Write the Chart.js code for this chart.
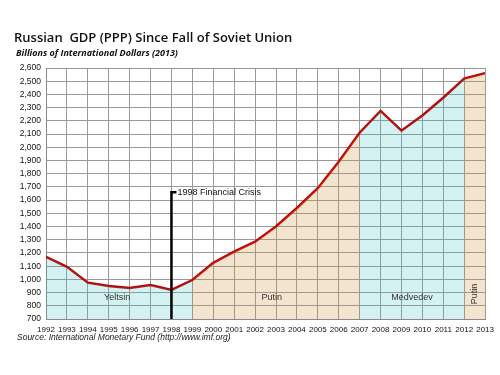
<!DOCTYPE html>
<html>
<head>
<meta charset="utf-8">
<script src="https://cdn.jsdelivr.net/npm/chart.js@4"></script>
<style>
  html, body { margin: 0; padding: 0; background: #fff; }
  #wrap { width: 500px; height: 375px; }
</style>
</head>
<body>
<div id="wrap"><canvas id="gdpChart"></canvas></div>
<script>
// data
const years = [1992, 1993, 1994, 1995, 1996, 1997, 1998, 1999, 2000, 2001, 2002,
               2003, 2004, 2005, 2006, 2007, 2008, 2009, 2010, 2011, 2012, 2013];
const gdp = [1170, 1095, 975, 950, 935, 958, 920, 995, 1125, 1210, 1285,
             1400, 1540, 1690, 1890, 2110, 2275, 2125, 2240, 2375, 2520, 2560];
const yTicks = [700, 800, 900, 1000, 1100, 1200, 1300, 1400, 1500, 1600, 1700, 1800,
                1900, 2000, 2100, 2200, 2300, 2400, 2500, 2600];
const terms = [
    { name: 'Yeltsin', from: 1992, to: 1999, color: 'rgba(40,190,190,0.2)', labelX: 1995.4, labelY: 860, rotate: false },
    { name: 'Putin', from: 1999, to: 2007, color: 'rgba(207,147,67,0.25)', labelX: 2002.8, labelY: 860, rotate: false },
    { name: 'Medvedev', from: 2007, to: 2012, color: 'rgba(40,190,190,0.2)', labelX: 2009.5, labelY: 860, rotate: false },
    { name: 'Putin', from: 2012, to: 2013, color: 'rgba(207,147,67,0.25)', labelX: 2012.5, labelY: 890, rotate: true }
];
const crisisYear = 1998;
const crisisTop = 1660;
const crisisLabel = '1998 Financial Crisis';

function points(from, to) {
    return years.map((y, i) => ({ x: y, y: gdp[i] })).filter(p => p.x >= from && p.x <= to);
}

const termSets = terms.map(t => ({
    label: t.name,
    data: points(t.from, t.to),
    borderWidth: 0,
    pointRadius: 0,
    backgroundColor: t.color,
    fill: 'start'
}));

const textPlugin = {
    id: 'texts',
    afterDatasetsDraw(chart) {
        const ctx = chart.ctx;
        const xs = chart.scales.x, ys = chart.scales.y;
        ctx.save();
        // term labels
        ctx.fillStyle = '#333';
        ctx.font = '9px "Liberation Sans", Arial, sans-serif';
        ctx.textAlign = 'center';
        ctx.textBaseline = 'middle';
        terms.forEach(t => {
            const px = xs.getPixelForValue(t.labelX), py = ys.getPixelForValue(t.labelY);
            if (t.rotate) {
                ctx.save();
                ctx.translate(px, py);
                ctx.rotate(-Math.PI / 2);
                ctx.fillText(t.name, 0, 0);
                ctx.restore();
            } else {
                ctx.fillText(t.name, px, py);
            }
        });
        // crisis marker
        const cx = xs.getPixelForValue(crisisYear);
        const cTop = ys.getPixelForValue(crisisTop);
        ctx.strokeStyle = '#000';
        ctx.lineWidth = 2.5;
        ctx.beginPath();
        ctx.moveTo(cx, ys.bottom);
        ctx.lineTo(cx, cTop);
        ctx.lineTo(cx + 5, cTop);
        ctx.stroke();
        ctx.fillStyle = '#111';
        ctx.textAlign = 'left';
        ctx.fillText(crisisLabel, cx + 6, cTop + 0.5);
        ctx.restore();
    },
    afterDraw(chart) {
        const ctx = chart.ctx;
        ctx.save();
        ctx.fillStyle = '#111';
        ctx.textAlign = 'left';
        ctx.textBaseline = 'middle';
        ctx.font = '600 13px "Open Sans", sans-serif';
        ctx.fillText('Russian  GDP (PPP) Since Fall of Soviet Union', 14, 38);
        ctx.font = 'italic bold 9px "Open Sans", sans-serif';
        ctx.fillText('Billions of International Dollars (2013)', 16, 53);
        ctx.fillStyle = '#222';
        ctx.font = 'italic 8.5px "Liberation Sans", Arial, sans-serif';
        ctx.fillText('Source: International Monetary Fund (http://www.imf.org)', 17, 338);
        ctx.restore();
    }
};

new Chart(document.getElementById('gdpChart'), {
    type: 'line',
    data: {
        datasets: [
            ...termSets,
            {
                label: 'GDP',
                data: years.map((y, i) => ({ x: y, y: gdp[i] })),
                borderColor: '#c00000',
                borderWidth: 2.5,
                pointRadius: 0,
                fill: false,
                tension: 0
            }
        ]
    },
    options: {
        responsive: true,
        maintainAspectRatio: false,
        animation: false,
        layout: { padding: { top: 68, right: 14, bottom: 38, left: 0 } },
        plugins: {
            legend: { display: false },
            title: { display: false },
            tooltip: { enabled: false }
        },
        scales: {
            x: {
                type: 'linear',
                min: 1992,
                max: 2013,
                afterFit: s => { s.height = 18; },
                afterBuildTicks: s => { s.ticks = years.map(v => ({ value: v })); },
                grid: { color: '#9a9a9a', lineWidth: 1, drawTicks: false },
                border: { color: '#888' },
                ticks: {
                    padding: 6,
                    maxRotation: 0,
                    autoSkip: false,
                    color: '#111',
                    font: { family: '"Liberation Sans", Arial, sans-serif', size: 8 },
                    callback: v => String(v)
                }
            },
            y: {
                min: 700,
                max: 2600,
                afterFit: s => { s.width = 46; },
                afterBuildTicks: s => { s.ticks = yTicks.map(v => ({ value: v })); },
                grid: { color: '#9a9a9a', lineWidth: 1, drawTicks: false },
                border: { color: '#888' },
                ticks: {
                    padding: 5,
                    autoSkip: false,
                    color: '#111',
                    font: { family: '"Liberation Sans", Arial, sans-serif', size: 8.5 },
                    callback: v => v.toLocaleString('en-US')
                }
            }
        }
    },
    plugins: [textPlugin]
});
</script>
</body>
</html>
